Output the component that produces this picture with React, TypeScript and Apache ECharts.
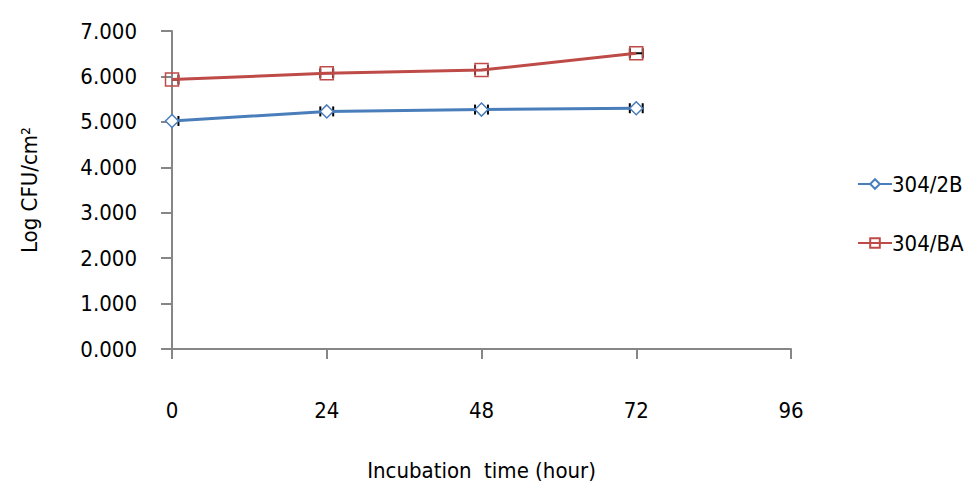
import React, { useEffect, useRef } from "react";
import * as echarts from "echarts";

const hours = [0, 24, 48, 72];
const seriesNames = ["304/2B", "304/BA"];
const values2B = [5.02, 5.23, 5.27, 5.3];
const valuesBA = [5.93, 6.07, 6.14, 6.51];
const xErr2B = [1, 1, 1, 1];
const xErrBA = [1, 1, 1, 1];
const yTicks = [0, 1, 2, 3, 4, 5, 6, 7];
const xTicks = [0, 24, 48, 72, 96];

const FONT = "'DejaVu Sans Condensed', sans-serif";

function errSeries(vals: number[], errs: number[]) {
  return {
    type: "custom",
    silent: true,
    clip: true,
    z: 1,
    data: hours.map((h, i) => [h, vals[i], errs[i]]),
    renderItem: (params: any, api: any) => {
      const x = api.value(0);
      const y = api.value(1);
      const e = api.value(2);
      const p0 = api.coord([x - e, y]);
      const p1 = api.coord([x + e, y]);
      const capH = 5;
      const style = { stroke: "#000", lineWidth: 2 };
      return {
        type: "group",
        children: [
          { type: "line", shape: { x1: p0[0], y1: p0[1], x2: p1[0], y2: p1[1] }, style },
          { type: "line", shape: { x1: p0[0], y1: p0[1] - capH, x2: p0[0], y2: p0[1] + capH }, style },
          { type: "line", shape: { x1: p1[0], y1: p1[1] - capH, x2: p1[0], y2: p1[1] + capH }, style },
        ],
      };
    },
  };
}

export default function App() {
  const ref = useRef<HTMLDivElement>(null);
  useEffect(() => {
    if (!ref.current) return;
    const chart = echarts.init(ref.current, undefined, { renderer: "svg" });
    const axisColor = "#868686";
    chart.setOption({
      animation: false,
      backgroundColor: "#fff",
      textStyle: { fontFamily: FONT },
      grid: { left: 172, right: 183, top: 31, bottom: 142, containLabel: false },
      legend: {
        orient: "vertical",
        left: 852,
        top: 168,
        itemGap: 37,
        itemWidth: 34,
        itemHeight: 12,
        data: seriesNames,
        textStyle: { fontSize: 22, color: "#000", fontFamily: FONT, padding: [0, 0, 0, -5] },
      },
      xAxis: {
        type: "value",
        min: 0,
        max: 96,
        interval: 24,
        name: "Incubation  time (hour)",
        nameLocation: "middle",
        nameGap: 110,
        nameTextStyle: { fontSize: 22, color: "#000", fontFamily: FONT },
        axisLine: { show: true, lineStyle: { color: axisColor, width: 2 } },
        axisTick: { show: true, length: 10, lineStyle: { color: axisColor, width: 2 } },
        axisLabel: {
          fontSize: 22,
          color: "#000",
          fontFamily: FONT,
          margin: 50,
          customValues: xTicks,
        },
        splitLine: { show: false },
      },
      yAxis: {
        type: "value",
        min: 0,
        max: 7,
        interval: 1,
        name: "Log CFU/cm²",
        nameLocation: "middle",
        nameGap: 132,
        nameTextStyle: { fontSize: 22, color: "#000", fontFamily: FONT },
        axisLine: { show: true, lineStyle: { color: axisColor, width: 2 } },
        axisTick: { show: true, length: 11, lineStyle: { color: axisColor, width: 2 } },
        axisLabel: {
          fontSize: 22,
          color: "#000",
          fontFamily: FONT,
          margin: 35,
          formatter: (v: number) => (yTicks.includes(v) ? v.toFixed(3) : ""),
        },
        splitLine: { show: false },
      },
      series: [
        errSeries(values2B, xErr2B),
        errSeries(valuesBA, xErrBA),
        {
          name: seriesNames[0],
          type: "line",
          z: 3,
          data: hours.map((h, i) => [h, values2B[i]]),
          symbol: "diamond",
          symbolSize: 13,
          lineStyle: { color: "#4a7ebb", width: 3 },
          itemStyle: { color: "#fff", borderColor: "#4a7ebb", borderWidth: 1.5 },
          color: "#4a7ebb",
        },
        {
          name: seriesNames[1],
          type: "line",
          z: 3,
          data: hours.map((h, i) => [h, valuesBA[i]]),
          symbol: "rect",
          symbolSize: 13,
          lineStyle: { color: "#be4b48", width: 3 },
          itemStyle: { color: "rgba(255,255,255,0)", borderColor: "#be4b48", borderWidth: 1.5 },
          color: "#be4b48",
        },
      ],
    });
    return () => chart.dispose();
  }, []);
  return (
    <div
      ref={ref}
      style={{ position: "fixed", left: 0, top: 0, width: 974, height: 491 }}
    />
  );
}
